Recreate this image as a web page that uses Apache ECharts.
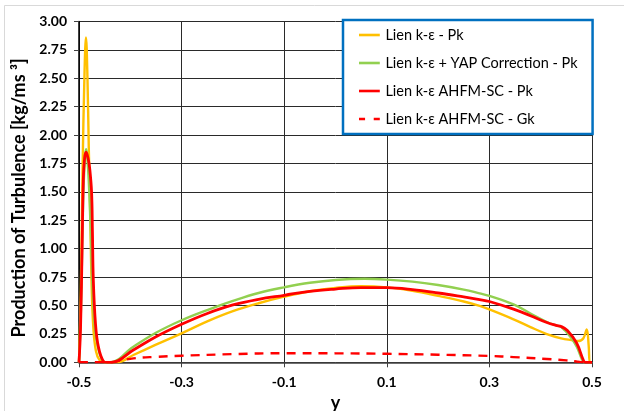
<!DOCTYPE html>
<html>
<head>
<meta charset="utf-8">
<script src="https://cdn.jsdelivr.net/npm/echarts@6/dist/echarts.min.js"></script>
<style>
  html, body { margin: 0; padding: 0; background: #fff; }
  #chart { width: 624px; height: 411px; }
</style>
</head>
<body>
<div id="chart"></div>
<script>
// ---- data (x = y-coordinate, value = production of turbulence) ----
const seriesNames = [
  'Lien k-\u03b5 - Pk',
  'Lien k-\u03b5 + YAP Correction - Pk',
  'Lien k-\u03b5 AHFM-SC - Pk',
  'Lien k-\u03b5 AHFM-SC - Gk'
];
const xTickLabels = ['-0.5', '-0.3', '-0.1', '0.1', '0.3', '0.5'];
const yTickLabels = ['0.00','0.25','0.50','0.75','1.00','1.25','1.50','1.75','2.00','2.25','2.50','2.75','3.00'];

const lienPk = [
  [-0.5, 0], [-0.4965, 0.6], [-0.493, 1.7], [-0.4895, 2.5], [-0.4864, 2.86],
  [-0.4835, 2.5], [-0.481, 1.9], [-0.478, 1.3], [-0.4755, 0.7], [-0.472, 0.3],
  [-0.467, 0.1], [-0.46, 0.02], [-0.45, 0.0], [-0.426, 0.0], [-0.394, 0.064],
  [-0.35, 0.155], [-0.3, 0.255], [-0.25, 0.36], [-0.2, 0.45], [-0.15, 0.52],
  [-0.1, 0.578], [-0.05, 0.625], [0.0, 0.655], [0.05, 0.67], [0.1, 0.66],
  [0.15, 0.63], [0.2, 0.585], [0.25, 0.535], [0.281, 0.496], [0.3, 0.465],
  [0.347, 0.378], [0.38, 0.31], [0.412, 0.249], [0.44, 0.211], [0.46, 0.195],
  [0.473, 0.187], [0.483, 0.21], [0.4897, 0.29], [0.4935, 0.15], [0.496, 0.0],
  [0.5, 0.0]
];
const yapPk = [
  [-0.5, 0], [-0.496, 0.5], [-0.492, 1.4], [-0.4885, 1.8], [-0.486, 1.875],
  [-0.4835, 1.78], [-0.481, 1.6], [-0.4775, 1.2], [-0.474, 0.7], [-0.469, 0.3],
  [-0.4624, 0.12], [-0.453, 0.01], [-0.445, 0], [-0.44, 0], [-0.394, 0.137],
  [-0.35, 0.26], [-0.3, 0.37], [-0.25, 0.46], [-0.2, 0.54], [-0.15, 0.61],
  [-0.1, 0.66], [-0.05, 0.70], [0.0, 0.725], [0.057, 0.735], [0.1, 0.728],
  [0.15, 0.71], [0.2, 0.68], [0.25, 0.64], [0.281, 0.607], [0.3, 0.585],
  [0.347, 0.51], [0.38, 0.43], [0.412, 0.355], [0.43, 0.325], [0.44, 0.31],
  [0.457, 0.23], [0.47, 0.14], [0.48, 0.03], [0.485, 0], [0.5, 0]
];
const ahfmPk = [
  [-0.5, 0], [-0.497, 0.3], [-0.494, 1.0], [-0.4916, 1.6], [-0.489, 1.8],
  [-0.486, 1.85], [-0.482, 1.79], [-0.479, 1.7], [-0.4755, 1.5], [-0.4738, 1.15],
  [-0.4721, 0.73], [-0.468, 0.35], [-0.4624, 0.14], [-0.4526, 0.01], [-0.445, 0],
  [-0.436, 0], [-0.394, 0.108], [-0.35, 0.225], [-0.3, 0.335], [-0.25, 0.43],
  [-0.2, 0.505], [-0.15, 0.555], [-0.1, 0.59], [-0.05, 0.625], [0.0, 0.645],
  [0.05, 0.658], [0.1, 0.657], [0.15, 0.64], [0.2, 0.61], [0.25, 0.575],
  [0.281, 0.552], [0.3, 0.535], [0.347, 0.468], [0.38, 0.41], [0.412, 0.35],
  [0.43, 0.325], [0.44, 0.315], [0.452, 0.28], [0.47, 0.17], [0.483, 0.02],
  [0.487, 0], [0.5, 0]
];
const ahfmGk = [
  [-0.5, 0], [-0.44, 0], [-0.42, 0.015], [-0.394, 0.035], [-0.35, 0.048],
  [-0.3, 0.058], [-0.2, 0.072], [-0.1, 0.08], [0.0, 0.079], [0.1, 0.075],
  [0.2, 0.067], [0.3, 0.056], [0.347, 0.046], [0.412, 0.029], [0.45, 0.017],
  [0.47, 0.007], [0.485, 0], [0.5, 0]
];

const seriesData = [lienPk, yapPk, ahfmPk, ahfmGk];
const colors = ['#FFC000', '#92D050', '#FF0000', '#FF0000'];

const X_SHIFT = 0.5; // axis runs 0..1 internally so ticks fall on -0.5, -0.3, ...
const shifted = arr => arr.map(p => [p[0] + X_SHIFT, p[1]]);

const FONT = 'Lato, "Open Sans", "Noto Sans", sans-serif';
const SOLID_ICON = 'path://M0,0h24v3h-24z';
const DASH_ICON = 'path://M0,0h7v3h-7z M17,0h7v3h-7z';

const chart = echarts.init(document.getElementById('chart'), null, { renderer: 'canvas' });

const series = seriesData.map((d, i) => ({
  name: seriesNames[i],
  type: 'line',
  data: shifted(d),
  showSymbol: false,
  symbol: 'none',
  smooth: 0.4,
  color: colors[i],
  lineStyle: {
    color: colors[i],
    width: i === 2 ? 2.8 : 2.4,
    type: i === 3 ? [9, 7] : 'solid'
  },
  animation: false,
  z: 2 + i
}));

chart.setOption({
  backgroundColor: '#fff',
  animation: false,
  textStyle: { fontFamily: FONT },
  graphic: [{
    type: 'rect',
    shape: { x: 4.5, y: 5.5, width: 640, height: 420 },
    style: { fill: 'none', stroke: '#d9d9d9', lineWidth: 1 },
    silent: true, z: -10
  }],
  grid: { left: 79, right: 32, top: 21.5, bottom: 48.7, containLabel: false, outerBoundsMode: 'none' },
  legend: {
    orient: 'vertical',
    left: 343, top: 20,
    padding: [7.5, 15, 7.5, 16],
    itemGap: 13,
    itemWidth: 22,
    itemHeight: 2.6,
    backgroundColor: '#fff',
    borderColor: '#0070C0',
    borderWidth: 2.5,
    borderRadius: 0,
    itemStyle: { borderWidth: 0 },
    textStyle: { fontFamily: FONT, fontSize: 14.5, color: '#000' },
    data: seriesNames.map((n, i) => ({ name: n, icon: i === 3 ? DASH_ICON : SOLID_ICON })),
    selectedMode: false
  },
  xAxis: {
    type: 'value',
    min: 0, max: 1, interval: 0.2,
    name: 'y',
    nameLocation: 'middle',
    nameGap: 24,
    nameTextStyle: { fontFamily: FONT, fontSize: 18, fontWeight: 'bold', color: '#000' },
    axisLine: { show: true, onZero: false, lineStyle: { color: '#404040', width: 1.5 } },
    axisTick: { show: true, inside: false, length: 5, lineStyle: { color: '#404040' } },
    axisLabel: {
      margin: 13,
      fontFamily: FONT, fontSize: 14, fontWeight: 'bold', color: '#000',
      formatter: v => xTickLabels[Math.round(v / 0.2)]
    },
    splitLine: { show: true, lineStyle: { color: '#2a2a2a', width: 1 } }
  },
  yAxis: {
    type: 'value',
    min: 0, max: 3, interval: 0.25,
    name: 'Production of Turbulence [kg/ms \u00b3]',
    nameLocation: 'middle',
    nameGap: 50,
    nameRotate: 90,
    nameTextStyle: { fontFamily: FONT, fontSize: 18, fontWeight: 'bold', color: '#000', padding: [0, 12, 0, 0] },
    axisLine: { show: true, lineStyle: { color: '#000', width: 1.5 } },
    axisTick: { show: true, inside: false, length: 5, lineStyle: { color: '#404040' } },
    axisLabel: {
      margin: 12,
      fontFamily: FONT, fontSize: 14, fontWeight: 'bold', color: '#000',
      formatter: v => yTickLabels[Math.round(v / 0.25)]
    },
    splitLine: { show: true, lineStyle: { color: '#2a2a2a', width: 1 } }
  },
  series: series
});
</script>
</body>
</html>
